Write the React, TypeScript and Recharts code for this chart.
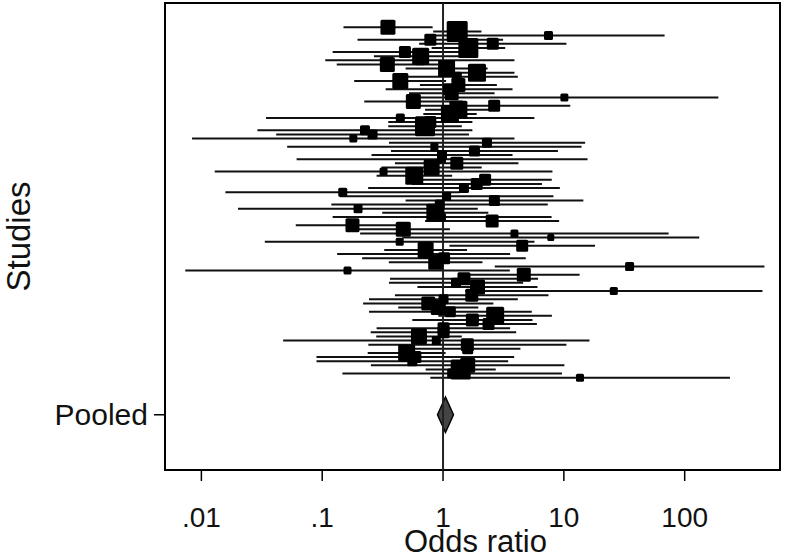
import React from 'react';
import {
  ScatterChart, Scatter, XAxis, YAxis, ReferenceLine, ReferenceArea
} from 'recharts';

// odds ratio and 95% CI per study, top to bottom
const oddsRatio = [
  0.35, 1.31, 7.46, 0.785, 2.58, 1.62, 0.484, 0.653, 0.645, 0.346,
  1.07, 1.91, 1.30, 0.443, 1.34, 1.12, 1.18, 10.1, 0.568, 2.65,
  1.34, 1.14, 0.443, 0.785, 0.709, 0.226, 0.261, 0.181, 2.31, 0.848,
  1.82, 0.98, 0.98, 1.30, 0.805, 0.322, 0.578, 2.23, 1.90, 1.49,
  0.148, 1.07, 2.66, 0.94, 0.198, 0.864, 0.98, 2.55, 0.178, 0.469,
  3.90, 7.80, 0.438, 4.52, 0.718, 0.692, 1.02, 0.87, 35.0, 0.162,
  4.66, 1.49, 1.28, 1.93, 25.9, 1.73, 1.01, 0.755, 0.914, 1.15,
  2.70, 1.75, 2.38, 1.01, 1.01, 0.632, 0.88, 1.59, 1.60, 0.50,
  0.59, 0.557, 1.60, 1.40, 1.19, 13.6,
];

const ciLower = [
  0.15, 0.83, 0.82, 0.196, 0.634, 0.805, 0.122, 0.268, 0.106, 0.132,
  0.49, 0.94, 0.405, 0.184, 0.644, 0.335, 0.523, 0.533, 0.223, 0.621,
  0.71, 0.687, 0.0343, 0.352, 0.352, 0.0291, 0.0416, 0.00837, 0.357, 0.0513,
  0.371, 0.256, 0.0614, 0.40, 0.31, 0.0129, 0.282, 0.625, 0.55, 0.24,
  0.0158, 0.14, 0.49, 0.119, 0.0201, 0.314, 0.122, 0.71, 0.0604, 0.192,
  0.206, 0.46, 0.0335, 1.13, 0.326, 0.133, 0.214, 0.356, 2.68, 0.00736,
  1.61, 0.364, 0.357, 0.614, 1.53, 0.40, 0.244, 0.218, 0.426, 0.244,
  0.914, 0.557, 0.944, 0.282, 0.252, 0.28, 0.0475, 0.241, 0.586, 0.238,
  0.0897, 0.0897, 0.253, 0.718, 0.147, 0.785,
];

const ciUpper = [
  0.82, 2.08, 68.2, 3.14, 10.5, 3.27, 1.92, 1.59, 3.90, 0.91,
  2.34, 3.90, 4.16, 1.06, 2.79, 3.76, 2.67, 190, 1.45, 11.3,
  2.53, 1.90, 5.70, 1.75, 1.43, 1.75, 1.64, 3.90, 15.0, 14.0,
  8.93, 3.76, 15.7, 4.21, 2.09, 8.05, 1.19, 7.94, 6.58, 9.27,
  1.38, 8.20, 14.5, 7.36, 1.94, 2.37, 7.91, 9.14, 0.526, 1.14,
  73.6, 132, 5.71, 18.1, 1.58, 3.59, 4.84, 2.12, 457, 3.57,
  13.5, 6.12, 4.60, 6.05, 440, 7.46, 4.16, 2.61, 1.96, 5.43,
  7.96, 5.50, 5.98, 3.59, 4.03, 1.43, 16.3, 10.5, 4.37, 1.05,
  3.88, 3.46, 10.1, 2.73, 9.64, 237,
];

// relative study weight (box area)
const boxWeight = [
  2.25, 4.41, 0.81, 1.44, 1.44, 4.0, 1.44, 2.89, 1.0, 2.25,
  2.89, 3.24, 1.0, 2.56, 1.96, 1.44, 1.96, 0.64, 2.25, 1.44,
  3.24, 3.24, 0.81, 1.44, 4.0, 1.0, 1.0, 0.64, 1.0, 0.64,
  1.21, 1.0, 0.64, 1.69, 2.56, 0.64, 3.24, 1.44, 1.44, 1.0,
  0.81, 0.81, 1.21, 1.0, 0.81, 3.24, 0.64, 1.69, 1.96, 2.25,
  0.64, 0.49, 0.64, 1.44, 2.56, 0.81, 1.44, 2.25, 0.81, 0.64,
  1.96, 1.69, 1.0, 2.25, 0.64, 1.69, 1.0, 1.96, 2.25, 1.21,
  3.24, 1.69, 1.44, 1.44, 1.44, 2.56, 0.81, 1.69, 1.21, 2.89,
  1.44, 1.0, 2.25, 4.0, 1.0, 0.64,
];

const pooledOR = 1.04;
const pooledLower = 0.90;
const pooledUpper = 1.22;
const pooledRow = 95;

const xTicks = [0.01, 0.1, 1, 10, 100];
const xDomain: [number, number] = [0.005, 615];
const yDomain: [number, number] = [-4.9, 108.4];

const FONT = '"Liberation Sans", Arial, sans-serif';

const studyRows = oddsRatio.map((or, i) => ({
  x: or, y: i + 1, lo: ciLower[i], hi: ciUpper[i], w: boxWeight[i],
}));

const fmtTick = (v: number) => (v < 1 ? String(v).replace(/^0\./, '.') : String(v));

const Box = (props: any) => {
  const { cx, cy, payload } = props;
  const s = 10 * Math.sqrt(payload.w);
  return <rect x={cx - s / 2} y={cy - s / 2} width={s} height={s} rx={1.5} fill="#000" />;
};

const Diamond = (props: any) => {
  const { x, y, width, height } = props;
  const mx = x + width / 2;
  const my = y + height / 2;
  return (
    <polygon
      points={`${x},${my} ${mx},${y} ${x + width},${my} ${mx},${y + height}`}
      fill="#444" stroke="#000" strokeWidth={1.5}
    />
  );
};

const StudiesLabel = ({ viewBox }: any) => {
  const cy = viewBox.y + viewBox.height / 2;
  return (
    <text x={18} y={cy} transform={`rotate(-90 18 ${cy})`} textAnchor="middle"
      dominantBaseline="central" fontFamily={FONT} fontSize={33} fill="#111">
      Studies
    </text>
  );
};

const OddsLabel = ({ viewBox }: any) => (
  <text x={viewBox.x + viewBox.width / 2 + 3} y={552} textAnchor="middle"
    fontFamily={FONT} fontSize={31} fill="#111">
    Odds ratio
  </text>
);

export default function App() {
  return (
    <div style={{ position: 'absolute', left: 0, top: 0, background: '#fff' }}>
      <ScatterChart width={788} height={555} margin={{ top: 3, right: 8, bottom: 0, left: 0 }}>
        <XAxis
          dataKey="x" type="number" scale="log" domain={xDomain} ticks={xTicks}
          allowDataOverflow tickFormatter={fmtTick} axisLine={false}
          tickLine={{ stroke: '#000', strokeWidth: 1.5 }} tickSize={11} tickMargin={26}
          tick={{ fill: '#111', fontSize: 28, fontFamily: FONT }} height={85}
          label={<OddsLabel />}
        />
        <YAxis
          dataKey="y" type="number" domain={yDomain} reversed allowDataOverflow
          ticks={[pooledRow]} tickFormatter={() => 'Pooled'} axisLine={false}
          tickLine={{ stroke: '#000', strokeWidth: 1.5 }} tickSize={11} tickMargin={6}
          tick={{ fill: '#111', fontSize: 30, fontFamily: FONT }} width={165}
          label={<StudiesLabel />}
        />
        <ReferenceArea x1={xDomain[0]} x2={xDomain[1]} y1={yDomain[0]} y2={yDomain[1]}
          fill="none" stroke="#000" strokeWidth={2} />
        {studyRows.map((r) => (
          <ReferenceLine key={r.y} segment={[{ x: r.lo, y: r.y }, { x: r.hi, y: r.y }]}
            stroke="#111" strokeWidth={2} />
        ))}
        <ReferenceLine x={1} stroke="#222" strokeWidth={2} />
        <Scatter data={studyRows} shape={<Box />} isAnimationActive={false} />
        <ReferenceArea x1={pooledLower} x2={pooledUpper} y1={pooledRow - 4.3} y2={pooledRow + 4.3}
          shape={<Diamond />} />
      </ScatterChart>
    </div>
  );
}
